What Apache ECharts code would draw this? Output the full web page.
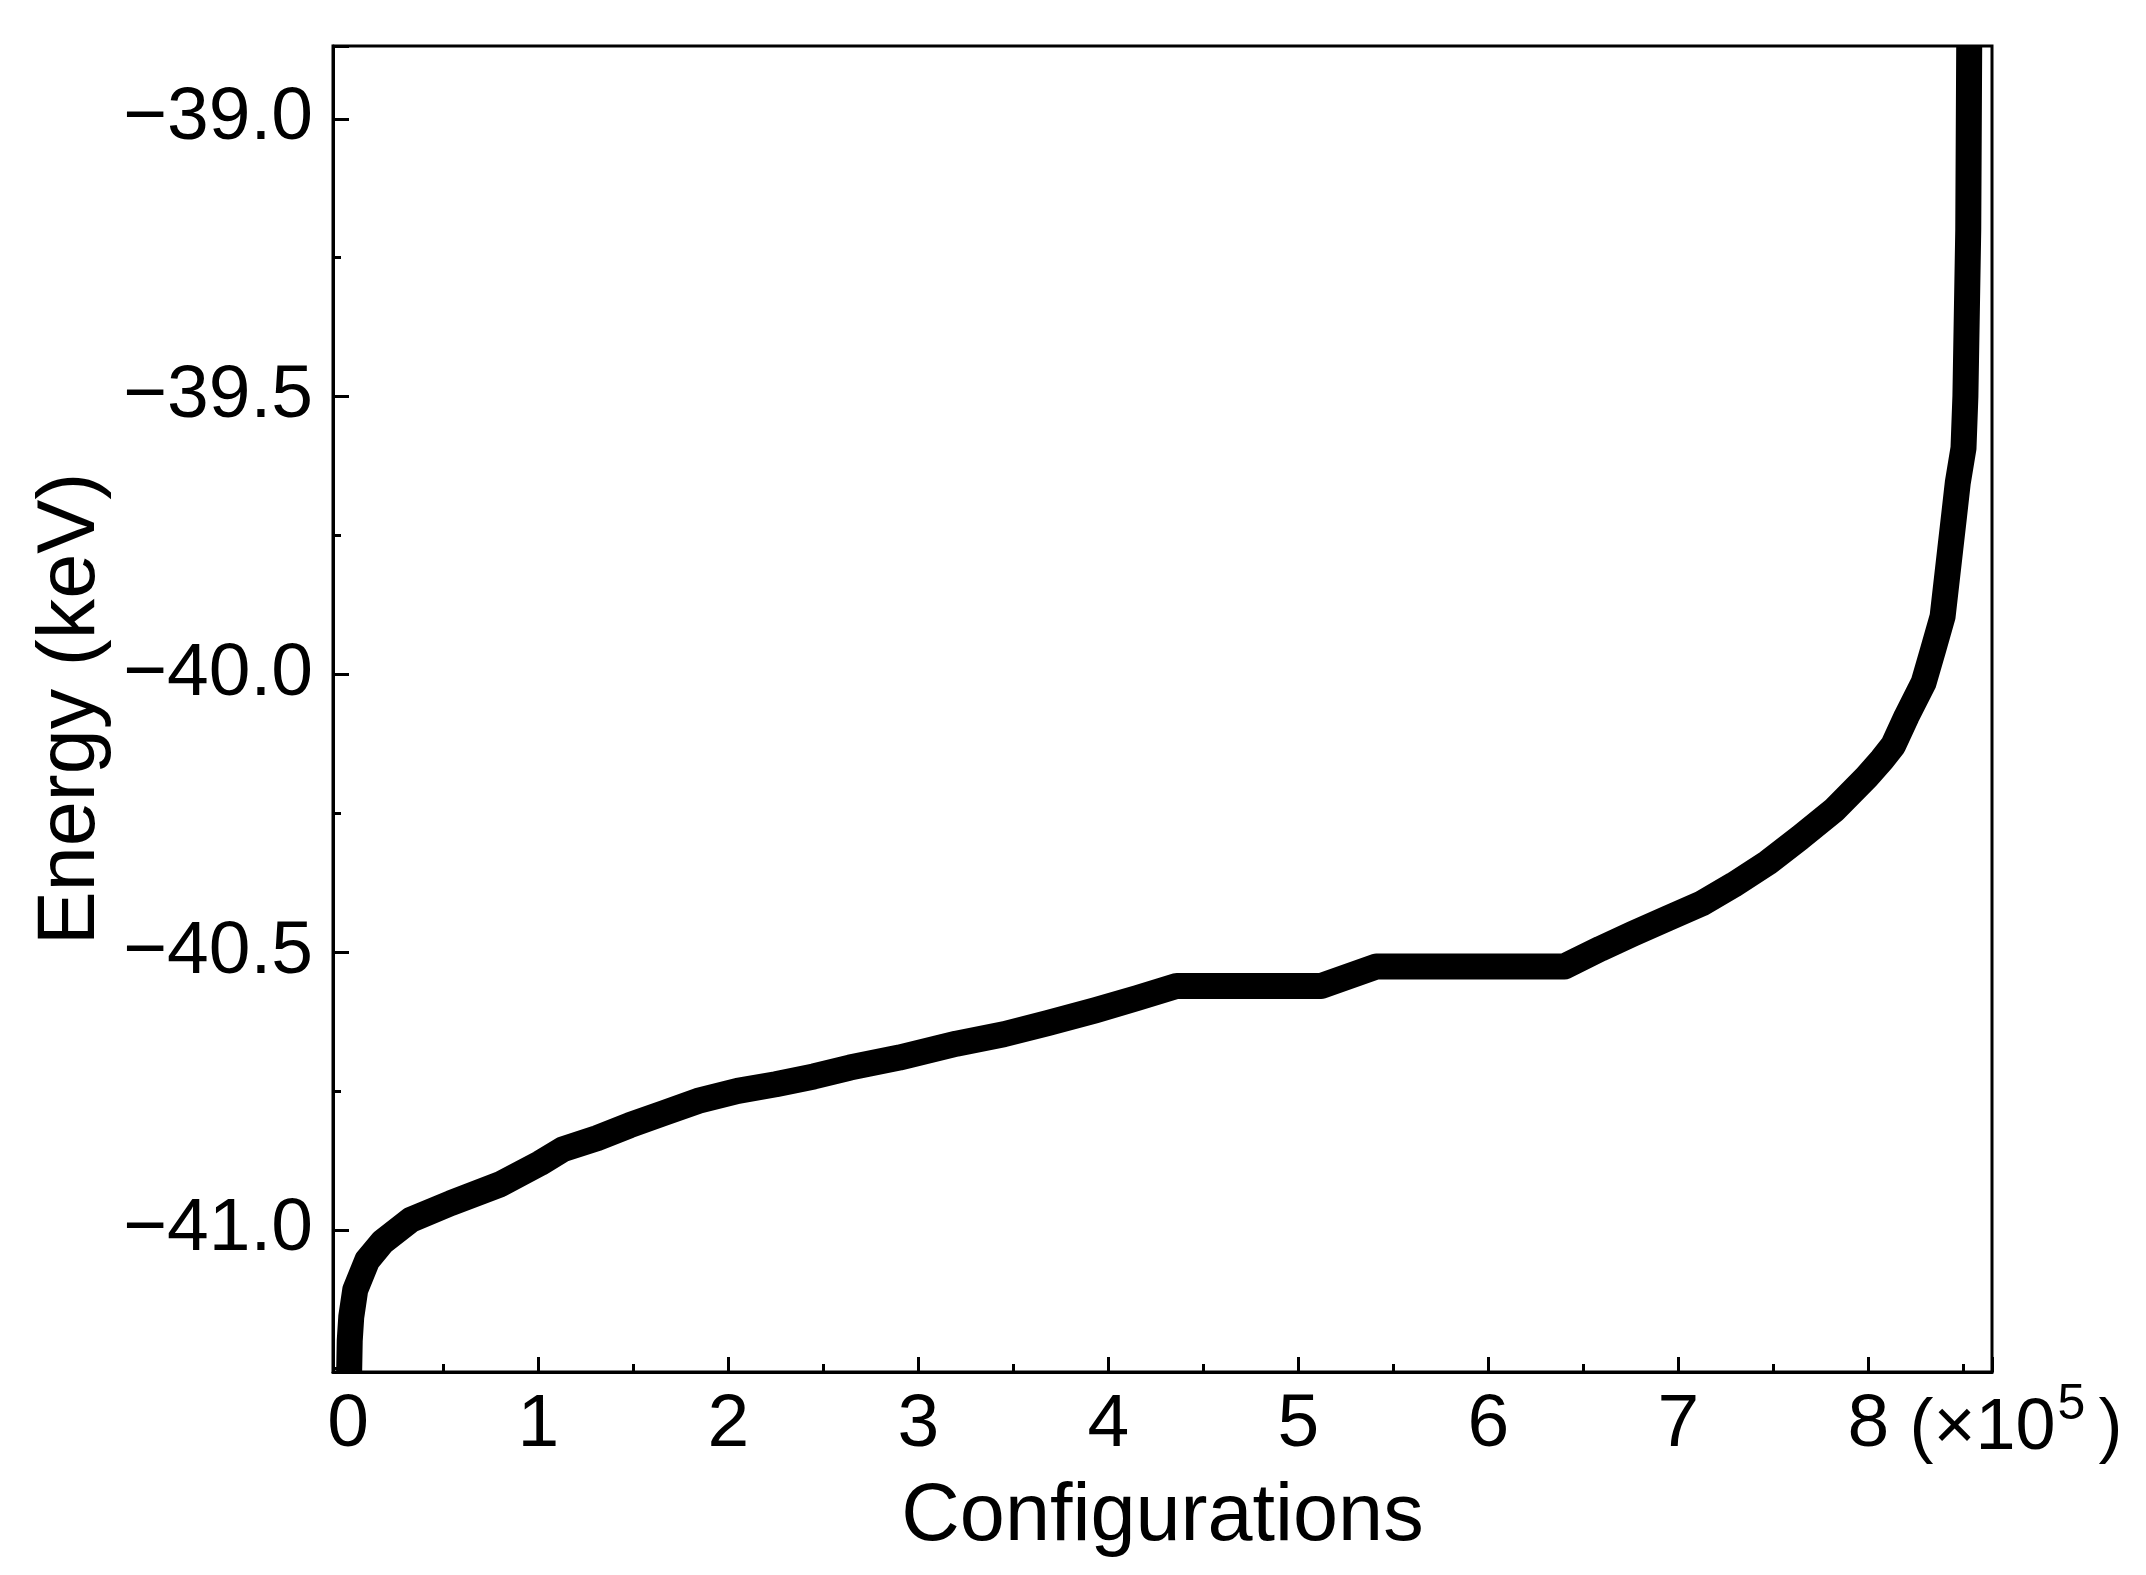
<!DOCTYPE html>
<html>
<head>
<meta charset="utf-8">
<script src="https://cdn.jsdelivr.net/npm/echarts@6/dist/echarts.min.js"></script>
<style>
html,body{margin:0;padding:0;background:#fff;}
#c{width:2146px;height:1575px;}
</style>
</head>
<body>
<div id="c"></div>
<script>
// Configurations (×10^5) and energies (keV)
const configurations = [
  0.005, 0.008, 0.016, 0.037, 0.10, 0.18, 0.33, 0.54, 0.80,
  1.01, 1.13, 1.31, 1.48, 1.66, 1.84, 2.05, 2.25, 2.45, 2.64, 2.90,
  3.20, 3.45, 3.68, 3.93, 4.15, 4.36, 5.12, 5.41, 6.40,
  6.59, 6.76, 6.94, 7.12, 7.29, 7.47, 7.64, 7.82, 7.99, 8.07, 8.13,
  8.20, 8.29, 8.34, 8.39, 8.43, 8.45, 8.47, 8.50, 8.51, 8.525, 8.53
];
const energy = [
  -41.256, -41.20, -41.157, -41.108, -41.055, -41.022, -40.982, -40.952, -40.918,
  -40.880, -40.855, -40.835, -40.812, -40.790, -40.768, -40.750, -40.738, -40.724, -40.708, -40.690,
  -40.665, -40.648, -40.628, -40.605, -40.583, -40.561, -40.561, -40.526, -40.526,
  -40.494, -40.467, -40.440, -40.413, -40.379, -40.339, -40.294, -40.244, -40.185, -40.154, -40.128,
  -40.076, -40.015, -39.956, -39.896, -39.776, -39.716, -39.655, -39.593, -39.50, -39.20, -38.869
];
const xRange = [-0.08, 8.65];
const yRange = [-41.256, -38.869];
const xTitle = 'Configurations';
const yTitle = 'Energy (keV)';
const xUnitParts = ['(\u00d710', '5', ')'];

const FONT = "'Liberation Sans', Arial, Helvetica, sans-serif";
const chart = echarts.init(document.getElementById('c'), null, {renderer: 'canvas'});

const option = {
  animation: false,
  backgroundColor: '#ffffff',
  grid: {
    left: 333, top: 46, right: 154, bottom: 203,
    show: true, borderColor: '#000', borderWidth: 3, backgroundColor: 'transparent',
    containLabel: false
  },
  xAxis: {
    type: 'value', min: xRange[0], max: xRange[1], splitNumber: 9,
    axisLine: {show: true, onZero: false, lineStyle: {color: '#000', width: 3}},
    axisTick: {show: true, inside: true, length: 15, lineStyle: {color: '#000', width: 3}},
    minorTick: {show: true, splitNumber: 2, length: 8, lineStyle: {color: '#000', width: 3}},
    splitLine: {show: false}, minorSplitLine: {show: false},
    axisLabel: {
      show: true, showMinLabel: false, showMaxLabel: false, color: '#000',
      fontSize: 75, fontFamily: FONT, margin: 16,
      formatter: v => (Math.abs(v - Math.round(v)) < 1e-9 ? String(Math.round(v)) : '')
    },
    name: xTitle, nameLocation: 'middle', nameGap: 105,
    nameTextStyle: {color: '#000', fontSize: 81, fontFamily: FONT}
  },
  yAxis: {
    type: 'value', min: yRange[0], max: yRange[1], splitNumber: 5,
    axisLine: {show: true, onZero: false, lineStyle: {color: '#000', width: 3}},
    axisTick: {show: true, inside: true, length: 16, lineStyle: {color: '#000', width: 3}},
    minorTick: {show: true, splitNumber: 2, length: 8, lineStyle: {color: '#000', width: 3}},
    splitLine: {show: false}, minorSplitLine: {show: false},
    axisLabel: {
      show: true, showMinLabel: false, showMaxLabel: false, color: '#000',
      fontSize: 75, fontFamily: FONT, margin: 20,
      formatter: v => {
        const r = Math.round(v * 2) / 2;
        if (Math.abs(v - r) > 1e-9) return '';
        return r.toFixed(1).replace('-', '\u2212');
      }
    },
    name: yTitle, nameLocation: 'middle', nameGap: 215, nameRotate: 90,
    nameTextStyle: {color: '#000', fontSize: 81, fontFamily: FONT}
  },
  series: [{
    type: 'line',
    data: configurations.map((x, i) => [x, energy[i]]),
    showSymbol: false, symbol: 'none',
    lineStyle: {color: '#000', width: 26, cap: 'butt', join: 'round'},
    clip: true,
    z: 1
  }]
};
chart.setOption(option);

const p8 = chart.convertToPixel({xAxisIndex: 0}, 8);
const yBase = chart.convertToPixel({yAxisIndex: 0}, yRange[0]);
chart.setOption({
  graphic: [
    {type: 'text', x: p8 + 41, y: yBase + 57, style: {text: xUnitParts[0], fill: '#000', font: '72px ' + FONT, align: 'left', verticalAlign: 'middle'}},
    {type: 'text', x: p8 + 189, y: yBase + 33, style: {text: xUnitParts[1], fill: '#000', font: '50px ' + FONT, align: 'left', verticalAlign: 'middle'}},
    {type: 'text', x: p8 + 230, y: yBase + 57, style: {text: xUnitParts[2], fill: '#000', font: '72px ' + FONT, align: 'left', verticalAlign: 'middle'}}
  ]
});
</script>
</body>
</html>
